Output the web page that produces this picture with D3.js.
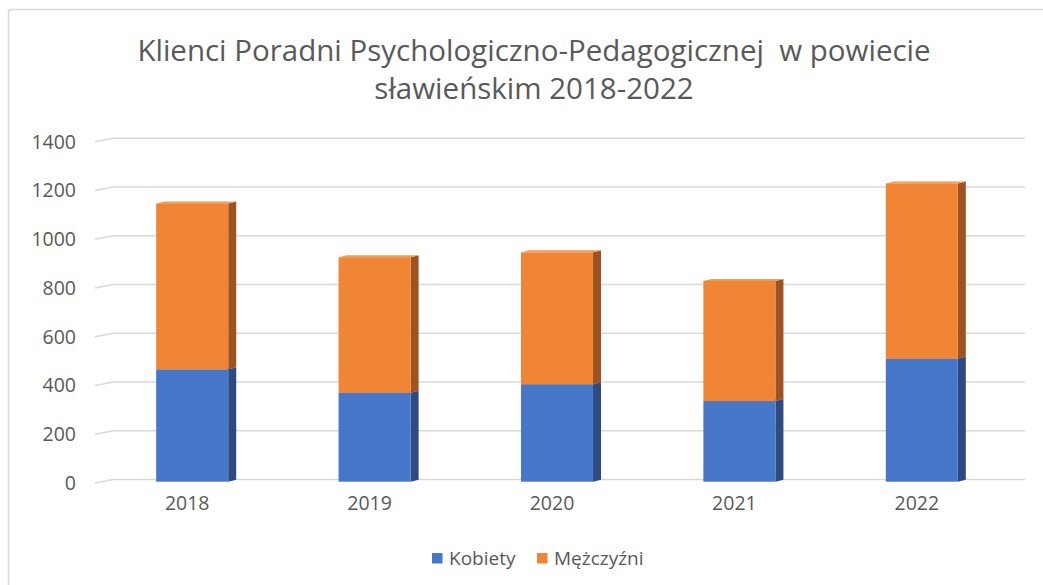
<!DOCTYPE html>
<html>
<head>
<meta charset="utf-8">
<script src="https://cdn.jsdelivr.net/npm/d3@7"></script>
<style>
  body { margin: 0; background: #fff; }
  svg { display: block; font-family: "Open Sans", sans-serif; }
</style>
</head>
<body>
<div id="chart"></div>
<script>
// values
const years = ["2018", "2019", "2020", "2021", "2022"];
const kobiety = [461, 365, 400, 331, 505];
const mezczyzni = [681, 556, 541, 493, 719];
const yTicks = [0, 200, 400, 600, 800, 1000, 1200, 1400];
const seriesNames = ["Kobiety", "Mężczyźni"];
const titleLines = ["Klienci Poradni Psychologiczno-Pedagogicznej  w powiecie", "sławieńskim 2018-2022"];

const W = 1043, H = 585;
const textColor = "#595959";
const front = ["#4677c9", "#f08536"];
const side = ["#2d4b82", "#9e5322"];
const top_ = ["#5a88d6", "#f39a55"];
const depthX = 8, depthY = -2;   // fake 3D depth
const frontDrop = 2.2;           // front face sits a bit lower than back wall

const svg = d3.select("#chart").append("svg")
    .attr("width", W)
    .attr("height", H);

// chart border (only top/left visible in the crop)
svg.append("rect")
    .attr("x", 8.5).attr("y", 9.5)
    .attr("width", W + 20).attr("height", H + 20)
    .attr("rx", 3)
    .attr("fill", "none")
    .attr("stroke", "#d9d9d9")
    .attr("stroke-width", 1.5);

// title
svg.append("text")
    .attr("x", 534)
    .attr("y", 61)
    .attr("text-anchor", "middle")
    .attr("fill", textColor)
    .attr("font-size", 29.5)
    .selectAll("tspan")
    .data(titleLines)
    .enter()
    .append("tspan")
    .attr("x", 534)
    .attr("dy", (d, i) => i == 0 ? 0 : 38)
    .style("white-space", "pre")
    .text(d => d);

var x = d3.scaleBand()
    .domain(years)
    .range([101, 1013])
    .paddingInner(0.605)
    .paddingOuter(0.3025);

var y = d3.scaleLinear()
    .domain([0, 1400])
    .range([479.5, 138.3]);

// gridlines with small slanted floor bit on the left
svg.append("g")
    .selectAll("path")
    .data(yTicks)
    .enter()
    .append("path")
    .attr("d", d => "M95," + (y(d) + 3.5) + "L113," + y(d) + "L1025," + y(d))
    .attr("fill", "none")
    .attr("stroke", "#d9d9d9")
    .attr("stroke-width", 1.5);

// y axis labels
var yAxis = svg.append("g")
    .attr("transform", "translate(76,3.5)")
    .call(d3.axisLeft(y).tickValues(yTicks).tickFormat(d3.format("d")).tickSize(0).tickPadding(0));
yAxis.select(".domain").remove();
yAxis.selectAll("text")
    .attr("fill", textColor)
    .attr("font-size", 19.5)
    .attr("font-family", "Open Sans, sans-serif");

// x axis labels
var xAxis = svg.append("g")
    .attr("transform", "translate(-5,496)")
    .call(d3.axisBottom(x).tickSize(0).tickPadding(0));
xAxis.select(".domain").remove();
xAxis.selectAll("text")
    .attr("fill", textColor)
    .attr("font-size", 19.5)
    .attr("font-family", "Open Sans, sans-serif");

// stacked data
const table = years.map((yr, i) => ({ year: yr, Kobiety: kobiety[i], "Mężczyźni": mezczyzni[i] }));
const stacked = d3.stack().keys(seriesNames)(table);

const bars = svg.append("g");
stacked.forEach((layer, si) => {
    var g = bars.append("g");
    layer.forEach(d => {
        var x0 = x(d.data.year), x1 = x0 + x.bandwidth();
        var yt = y(d[1]) + frontDrop, yb = y(d[0]) + frontDrop;
        // side face
        g.append("path")
            .attr("d", "M" + x1 + "," + yb + "L" + (x1 + depthX) + "," + (yb + depthY) +
                "L" + (x1 + depthX) + "," + (yt + depthY) + "L" + x1 + "," + yt + "Z")
            .attr("fill", side[si]);
        // top face
        g.append("path")
            .attr("d", "M" + x0 + "," + yt + "L" + (x0 + depthX) + "," + (yt + depthY) +
                "L" + (x1 + depthX) + "," + (yt + depthY) + "L" + x1 + "," + yt + "Z")
            .attr("fill", top_[si]);
        // front face
        g.append("rect")
            .attr("x", x0)
            .attr("y", yt)
            .attr("width", x.bandwidth())
            .attr("height", yb - yt)
            .attr("fill", front[si]);
    });
});

// legend
const legendX = [432, 537];
const legend = svg.append("g")
    .selectAll("g")
    .data(seriesNames)
    .enter()
    .append("g")
    .attr("transform", (d, i) => "translate(" + legendX[i] + ",553)");
legend.append("rect")
    .attr("width", 10.5)
    .attr("height", 10.5)
    .attr("fill", (d, i) => front[i]);
legend.append("text")
    .attr("x", 17)
    .attr("y", 12)
    .attr("fill", textColor)
    .attr("font-size", 19)
    .text(d => d);
</script>
</body>
</html>
